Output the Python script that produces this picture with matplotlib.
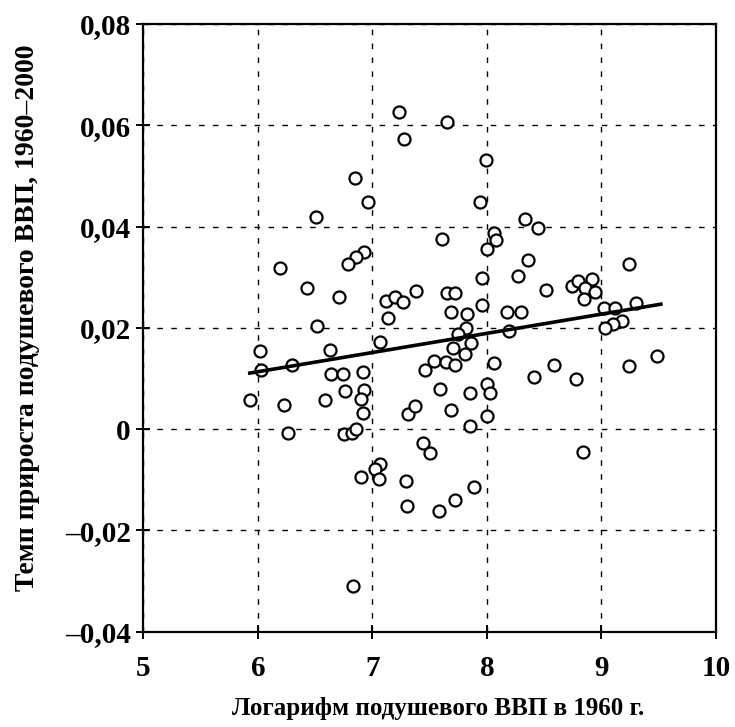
import numpy as np
import matplotlib
matplotlib.use('Agg')
import matplotlib.pyplot as plt
from matplotlib.ticker import FuncFormatter

# log GDP per capita in 1960 vs growth rate 1960-2000
log_gdp = [7.23, 7.28, 6.85, 6.96, 6.51, 7.65, 7.99, 7.94, 8.33, 8.45,
           8.06, 8.08, 7.61, 8.00, 8.36, 6.93, 6.86, 6.79, 6.19, 6.43,
           6.71, 7.12, 7.20, 7.27, 7.38, 7.14, 6.52, 7.07, 6.02, 6.63,
           6.30, 6.03, 6.64, 6.74, 6.92, 6.76, 6.93, 6.90, 5.93, 6.23,
           6.59, 6.92, 7.31, 7.37, 7.46, 7.54, 7.59, 6.26, 6.75, 6.82,
           6.86, 7.44, 7.50, 7.07, 7.02, 6.90, 7.06, 7.29, 7.30, 7.58,
           6.83, 7.85, 8.00, 7.89, 7.72, 8.84, 7.96, 8.27, 7.65, 7.72,
           8.52, 9.24, 8.74, 8.80, 8.92, 8.86, 8.94, 8.85, 7.96, 7.69,
           7.83, 8.18, 8.30, 9.02, 9.12, 9.30, 7.82, 7.75, 8.19, 9.18,
           9.10, 9.03, 7.86, 7.70, 7.81, 7.64, 7.72, 8.06, 9.49, 9.24,
           8.59, 8.41, 8.78, 8.00, 8.03, 7.85, 7.69]
growth = [0.0626, 0.0572, 0.0495, 0.0448, 0.0418, 0.0606, 0.0531, 0.0448, 0.0414, 0.0398,
          0.0388, 0.0374, 0.0376, 0.0356, 0.0335, 0.0349, 0.0339, 0.0327, 0.0319, 0.0279,
          0.0261, 0.0253, 0.0261, 0.0251, 0.0273, 0.0220, 0.0204, 0.0172, 0.0154, 0.0156,
          0.0127, 0.0117, 0.0109, 0.0109, 0.0113, 0.0075, 0.0077, 0.0059, 0.0057, 0.0048,
          0.0057, 0.0032, 0.0030, 0.0046, 0.0117, 0.0135, 0.0079, -0.0008, -0.0010, -0.0008,
          0.0000, -0.0028, -0.0048, -0.0069, -0.0079, -0.0095, -0.0099, -0.0103, -0.0152, -0.0162,
          -0.0309, 0.0006, 0.0026, -0.0115, -0.0139, -0.0046, 0.0299, 0.0303, 0.0269, 0.0269,
          0.0275, 0.0327, 0.0283, 0.0293, 0.0297, 0.0279, 0.0271, 0.0257, 0.0246, 0.0232,
          0.0228, 0.0232, 0.0232, 0.0240, 0.0240, 0.0249, 0.0200, 0.0188, 0.0194, 0.0214,
          0.0208, 0.0200, 0.0170, 0.0160, 0.0149, 0.0133, 0.0127, 0.0131, 0.0145, 0.0125,
          0.0127, 0.0103, 0.0099, 0.0089, 0.0071, 0.0071, 0.0038]

# regression line
fit_slope = 0.00379
fit_intercept = -0.0114
fit_range = [5.93, 9.52]

xticks = [5, 6, 7, 8, 9, 10]
yticks = [-0.04, -0.02, 0, 0.02, 0.04, 0.06, 0.08]

plt.rcParams['font.family'] = ['Liberation Serif', 'DejaVu Serif']

fig = plt.figure(figsize=(7.35, 7.27), dpi=100)
ax = fig.add_axes([0.195, 0.131, 0.779, 0.836])

ax.scatter(log_gdp, growth, s=75, facecolors='white', edgecolors='black',
           linewidths=1.6, zorder=3)

fx = np.array(fit_range)
ax.plot(fx, fit_intercept + fit_slope * fx, color='black', lw=2.6, zorder=4)

ax.set_xlim(5, 10)
ax.set_ylim(-0.04, 0.08)
ax.set_xticks(xticks)
ax.set_yticks(yticks)

def yfmt(v, pos):
    if abs(v) < 1e-9:
        return '0'
    s = f'{abs(v):.2f}'.replace('.', ',')
    return ('\u2013' if v < 0 else '') + s

ax.yaxis.set_major_formatter(FuncFormatter(yfmt))
ax.grid(True, color='black', linestyle=(0, (4, 6)), linewidth=1.0)
ax.set_axisbelow(True)

ax.tick_params(direction='inout', length=10, width=1.4, labelsize=21, pad=4)
ax.tick_params(axis='x', pad=12)
for lab in ax.get_xticklabels() + ax.get_yticklabels():
    lab.set_fontweight('bold')
for sp in ax.spines.values():
    sp.set_linewidth(1.6)

fig.text(438 / 735, 1 - 708 / 727, 'Логарифм подушевого ВВП в 1960 г.',
         fontsize=18, fontweight='bold', ha='center', va='center')
fig.text(28 / 735, 1 - 318 / 727, 'Темп прироста подушевого ВВП, 1960\u20132000',
         fontsize=20, fontweight='bold', ha='center', va='center', rotation=90)

fig.savefig('out.png', dpi=100)
